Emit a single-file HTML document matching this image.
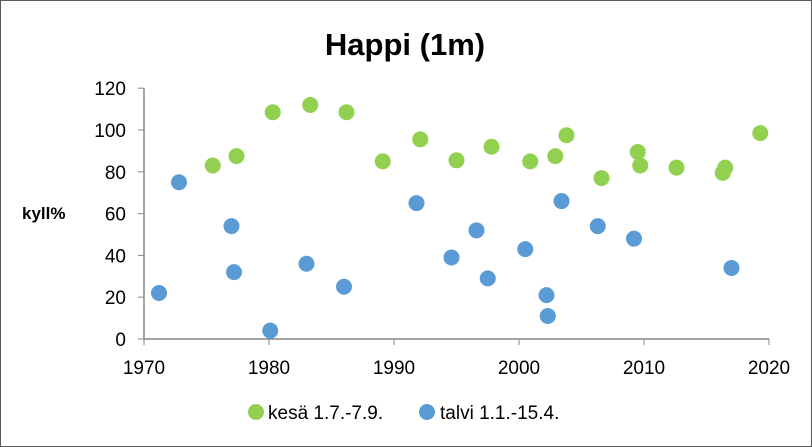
<!DOCTYPE html>
<html><head><meta charset="utf-8"><style>
body{margin:0;background:#fff;}
svg{display:block;font-family:"Liberation Sans",Arial,sans-serif;}
</style></head><body>
<svg id="chart" width="812" height="447">
<rect x="0.5" y="0.5" width="811" height="446" fill="#fff" stroke="#595959"/>
<text x="405" y="55" font-size="31" font-weight="bold" text-anchor="middle" fill="#000">Happi (1m)</text>
<text x="22" y="219" font-size="17" font-weight="bold" fill="#000">kyll%</text>
<g id="axes"></g>
<g id="marks"></g>
<g>
<circle cx="256" cy="412" r="8" fill="#92d050"/>
<text x="268" y="419" font-size="19" fill="#000">kesä 1.7.-7.9.</text>
<circle cx="427" cy="412" r="8" fill="#5b9bd5"/>
<text x="440" y="419" font-size="19" fill="#000">talvi 1.1.-15.4.</text>
</g>
</svg>
<script>
const xTicks=[1970,1980,1990,2000,2010,2020];
const yTicks=[0,20,40,60,80,100,120];
const summerYears=[1975.5,1977.4,1980.3,1983.3,1986.2,1989.1,1992.1,1995,1997.8,2000.9,2002.9,2003.8,2006.6,2009.5,2009.7,2012.6,2016.3,2016.5,2019.3];
const summerValues=[83,87.5,108.5,112,108.5,85,95.5,85.5,92,85,87.5,97.5,77,89.5,83,82,79.5,82,98.5];
const winterYears=[1971.2,1972.8,1977,1977.2,1980.1,1983,1986,1991.8,1994.6,1996.6,1997.5,2000.5,2002.2,2002.3,2003.4,2006.3,2009.2,2017];
const winterValues=[22,75,54,32,4,36,25,65,39,52,29,43,21,11,66,54,48,34];
const X=v=>144+(v-1970)*12.5;
const Y=v=>339-v*2.09;
const NS='http://www.w3.org/2000/svg';
const ax=document.getElementById('axes'),mk=document.getElementById('marks');
function mkEl(t,a,p){const e=document.createElementNS(NS,t);for(const k in a)e.setAttribute(k,a[k]);p.appendChild(e);return e;}
let l=mkEl('line',{x1:144,y1:Y(120),x2:144,y2:339,stroke:'#868686','stroke-width':1.5},ax);


l=mkEl('line',{x1:144,y1:339,x2:X(2020),y2:339,stroke:'#868686','stroke-width':1.5},ax);


yTicks.forEach(v=>{
 mkEl('line',{x1:138,y1:Y(v),x2:144,y2:Y(v),stroke:'#868686'},ax);
 const t=mkEl('text',{x:126,y:Y(v)+7,'font-size':19,'text-anchor':'end',fill:'#000'},ax);
 t.textContent=v;
 
 
});
xTicks.forEach(v=>{
 mkEl('line',{x1:X(v),y1:339,x2:X(v),y2:345,stroke:'#868686'},ax);
 const t=mkEl('text',{x:X(v),y:374,'font-size':19,'text-anchor':'middle',fill:'#000'},ax);
 t.textContent=v;
 
 
});
summerYears.forEach((yr,i)=>{
 const c=mkEl('circle',{cx:X(yr),cy:Y(summerValues[i]),r:8,fill:'#92d050'},mk);
 
 
});
winterYears.forEach((yr,i)=>{
 const c=mkEl('circle',{cx:X(yr),cy:Y(winterValues[i]),r:8,fill:'#5b9bd5'},mk);
 
 
});
</script>
</body></html>
